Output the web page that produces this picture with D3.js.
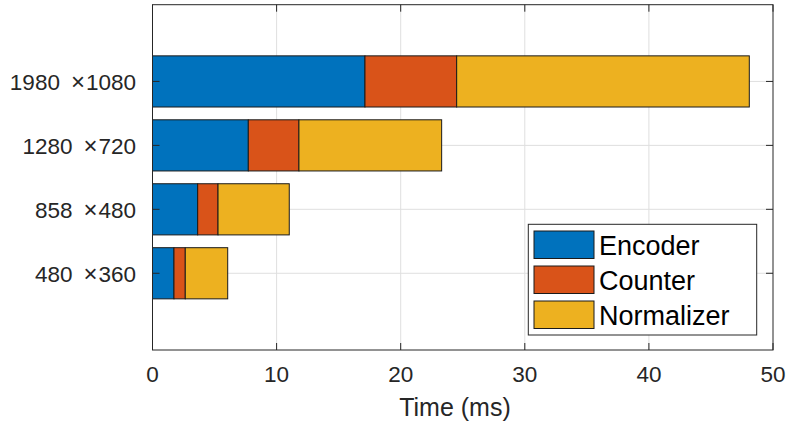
<!DOCTYPE html>
<html>
<head>
<meta charset="utf-8">
<script src="https://cdn.jsdelivr.net/npm/d3@7"></script>
<style>
  body { margin: 0; background: #fff; }
  svg { display: block; }
  text { font-family: "Liberation Sans", Arial, Helvetica, sans-serif; }
</style>
</head>
<body>
<div id="chart"></div>
<script>
// resolutions, bottom to top
const resW = ["480", "858", "1280", "1980"];
const resH = ["360", "480", "720", "1080"];

// time per stage (ms)
const encoder    = [1.73, 3.64, 7.72, 17.12];
const counter    = [0.91, 1.64, 4.08, 7.39];
const normalizer = [3.42, 5.74, 11.50, 23.58];

const seriesNames = ["Encoder", "Counter", "Normalizer"];
const seriesColors = ["#0072BD", "#D95319", "#EDB120"];
const xTicks = [0, 10, 20, 30, 40, 50];

const width = 787, height = 426;
const plotLeft = 152.5, plotRight = 773, plotTop = 4.7, plotBottom = 350;
const axisColor = "#262626";

const svg = d3.select("#chart").append("svg")
    .attr("width", width)
    .attr("height", height);

const x = d3.scaleLinear().domain([0, 50]).range([plotLeft, plotRight]);
const y = d3.scaleLinear().domain([-0.2, 5.2]).range([plotBottom, plotTop]);
const barH = y(0) - y(0.8);

// build rows for stacking
const rows = resW.map(function(w, i){
    return { idx: i + 1, Encoder: encoder[i], Counter: counter[i], Normalizer: normalizer[i] };
});
const stacked = d3.stack().keys(seriesNames)(rows);

// grid
svg.append("g").selectAll("line")
    .data(xTicks.slice(1, -1))
    .enter().append("line")
    .attr("x1", d => x(d)).attr("x2", d => x(d))
    .attr("y1", plotTop).attr("y2", plotBottom)
    .attr("stroke", "#dfdfdf").attr("stroke-width", 1);

svg.append("g").selectAll("line")
    .data(rows)
    .enter().append("line")
    .attr("x1", plotLeft).attr("x2", plotRight)
    .attr("y1", d => y(d.idx)).attr("y2", d => y(d.idx))
    .attr("stroke", "#dfdfdf").attr("stroke-width", 1);

// bars
svg.append("g").selectAll("g")
    .data(stacked)
    .enter().append("g")
    .attr("fill", (d, i) => seriesColors[i])
    .selectAll("rect")
    .data(d => d)
    .enter().append("rect")
    .attr("x", d => x(d[0]))
    .attr("width", d => x(d[1]) - x(d[0]))
    .attr("y", d => y(d.data.idx) - barH / 2)
    .attr("height", barH)
    .attr("stroke", "#1a1a1a")
    .attr("stroke-width", 1);

// frame
svg.append("rect")
    .attr("x", plotLeft).attr("y", plotTop)
    .attr("width", plotRight - plotLeft).attr("height", plotBottom - plotTop)
    .attr("fill", "none")
    .attr("stroke", axisColor).attr("stroke-width", 1);

// x ticks (inward, bottom and top)
const xt = svg.append("g");
xt.selectAll(".tb").data(xTicks).enter().append("line")
    .attr("x1", d => x(d)).attr("x2", d => x(d))
    .attr("y1", plotBottom).attr("y2", plotBottom - 7)
    .attr("stroke", axisColor);
xt.selectAll(".tt").data(xTicks).enter().append("line")
    .attr("x1", d => x(d)).attr("x2", d => x(d))
    .attr("y1", plotTop).attr("y2", plotTop + 7)
    .attr("stroke", axisColor);
xt.selectAll("text").data(xTicks).enter().append("text")
    .attr("x", d => x(d))
    .attr("y", 381.5)
    .attr("text-anchor", "middle")
    .attr("font-size", "22.5px")
    .attr("fill", axisColor)
    .text(d => d);

// y ticks (inward, left and right)
const yt = svg.append("g");
yt.selectAll(".tl").data(rows).enter().append("line")
    .attr("x1", plotLeft).attr("x2", plotLeft + 7)
    .attr("y1", d => y(d.idx)).attr("y2", d => y(d.idx))
    .attr("stroke", axisColor);
yt.selectAll(".tr").data(rows).enter().append("line")
    .attr("x1", plotRight).attr("x2", plotRight - 7)
    .attr("y1", d => y(d.idx)).attr("y2", d => y(d.idx))
    .attr("stroke", axisColor);

const ylab = yt.selectAll("text").data(rows).enter().append("text")
    .attr("x", 0)
    .attr("y", d => y(d.idx) + 8.5)
    .attr("font-size", "22.5px")
    .attr("fill", axisColor);
ylab.append("tspan").text((d, i) => resW[i]);
ylab.append("tspan").attr("dx", 11).attr("font-size", "24px").text("\u00d7");
ylab.append("tspan").attr("dx", 1).text((d, i) => resH[i]);
// right-align by measuring
ylab.each(function(){
    const bb = this.getBBox();
    d3.select(this).attr("x", 136 - (bb.x + bb.width));
});

// x label
svg.append("text")
    .attr("x", 455)
    .attr("y", 416)
    .attr("text-anchor", "middle")
    .attr("font-size", "25px")
    .attr("fill", axisColor)
    .text("Time (ms)");

// legend
const lg = svg.append("g");
lg.append("rect")
    .attr("x", 528.3).attr("y", 224.3)
    .attr("width", 228.4).attr("height", 110.7)
    .attr("fill", "#fff")
    .attr("stroke", axisColor).attr("stroke-width", 1);

const item = lg.selectAll("g")
    .data(seriesNames)
    .enter().append("g")
    .attr("transform", (d, i) => "translate(534," + (231 + i * 35) + ")");
item.append("rect")
    .attr("width", 60).attr("height", 27.5)
    .attr("fill", (d, i) => seriesColors[i])
    .attr("stroke", "#1a1a1a").attr("stroke-width", 1);
item.append("text")
    .attr("x", 65)
    .attr("y", 23.5)
    .attr("font-size", "27px")
    .attr("fill", "#000")
    .text(d => d);
</script>
</body>
</html>
